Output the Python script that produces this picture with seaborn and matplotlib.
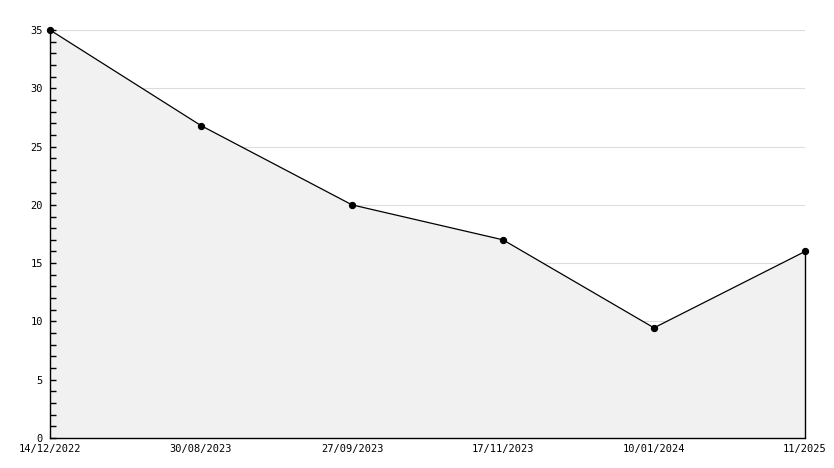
import numpy as np
import pandas as pd
import seaborn as sns
import matplotlib
matplotlib.use("Agg")
import matplotlib.pyplot as plt
from matplotlib.ticker import MultipleLocator

dates = ["14/12/2022", "30/08/2023", "27/09/2023", "17/11/2023", "10/01/2024", "11/2025"]
values = [35, 26.8, 20, 17, 9.45, 16]

df = pd.DataFrame({"pos": np.arange(len(dates)), "value": values})

sns.set_style("white")
plt.rcParams["font.family"] = ["DejaVu Sans Mono"]
plt.rcParams["text.color"] = "black"
plt.rcParams["xtick.color"] = "black"
plt.rcParams["ytick.color"] = "black"

fig = plt.figure(figsize=(8.34, 4.68), dpi=100)
ax = fig.add_axes([50 / 834, 30 / 468, 755 / 834, 408 / 468])
ax.set_axisbelow(False)

# grid behind the fill
for y in range(5, 36, 5):
    ax.axhline(y, color="#dcdcdc", lw=0.8, zorder=0)

ax.fill_between(df["pos"], df["value"], 0, color="#f1f1f1", zorder=1, lw=0)
sns.lineplot(data=df, x="pos", y="value", ax=ax, color="black", lw=0.9,
             marker="o", markersize=4.5, markeredgecolor="black", zorder=3, clip_on=False)
# right edge of the filled area
ax.plot([df["pos"].iloc[-1]] * 2, [0, df["value"].iloc[-1]], color="black", lw=1, zorder=3, clip_on=False)

ax.set_xlim(0, len(dates) - 1)
ax.set_ylim(0, 35)
ax.set_xticks(df["pos"])
ax.set_xticklabels(dates)
ax.yaxis.set_major_locator(MultipleLocator(5))
ax.yaxis.set_minor_locator(MultipleLocator(1))
ax.tick_params(axis="y", which="both", direction="in", length=4, width=1, left=True,
               labelsize=7.5, pad=5, colors="black")
ax.tick_params(axis="x", length=0, labelsize=7.5, pad=4, colors="black")
ax.set_xlabel("")
ax.set_ylabel("")

for s in ["top", "right"]:
    ax.spines[s].set_visible(False)
for s in ["left", "bottom"]:
    ax.spines[s].set_color("black")
    ax.spines[s].set_linewidth(1)
    ax.spines[s].set_zorder(4)

plt.savefig("out.png", dpi=100)
